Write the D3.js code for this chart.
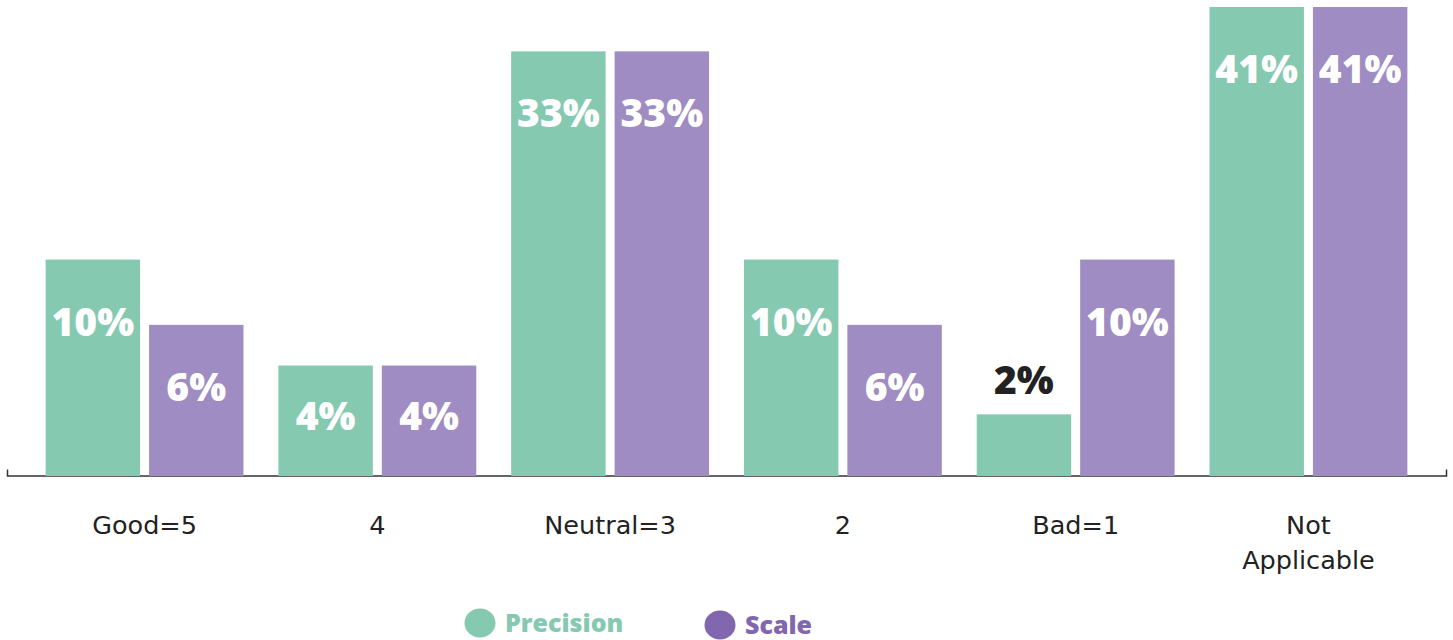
<!DOCTYPE html>
<html>
<head>
<meta charset="utf-8">
<script src="https://cdn.jsdelivr.net/npm/d3@7"></script>
<style>
  html, body { margin: 0; padding: 0; background: #fff; }
  svg { display: block; }
</style>
</head>
<body>
<svg id="chart" width="1453" height="640"></svg>
<script>
// Survey responses, share of respondents (%)
const categories = ["Good=5", "4", "Neutral=3", "2", "Bad=1", "Not Applicable"];
const seriesNames = ["Precision", "Scale"];
const precisionValues = [10, 4, 33, 10, 2, 41];
const scaleValues = [6, 4, 33, 6, 10, 41];

const barColors = ["#85c9b1", "#9f8cc2"];
const legendColors = ["#85c9b1", "#8067ae"];

const width = 1453, height = 640;
const baseY = 475.5, topY = 7;
const axisLeft = 7, axisRight = 1446;

const svg = d3.select("#chart");

const rows = categories.map((c, i) => ({
  category: c,
  values: [precisionValues[i], scaleValues[i]]
}));

const x0 = d3.scaleBand()
  .domain(categories)
  .range([axisLeft, axisRight])
  .paddingInner(0.15)
  .paddingOuter(0.166);

const x1 = d3.scaleBand()
  .domain(seriesNames)
  .range([0, x0.bandwidth()])
  .paddingInner(0.087);

const y = d3.scaleSymlog()
  .constant(7)
  .domain([0, d3.max([...precisionValues, ...scaleValues])])
  .range([baseY, topY]);

// baseline axis with category labels
const axis = d3.axisBottom(x0).tickSizeInner(0).tickSizeOuter(-6).tickPadding(0);
const gAxis = svg.append("g")
  .attr("transform", `translate(0,${baseY})`)
  .call(axis);
gAxis.select(".domain").attr("stroke", "#333").attr("stroke-width", 1.5);
gAxis.selectAll(".tick text")
  .attr("font-family", "'DejaVu Sans', sans-serif")
  .attr("font-size", 25.5)
  .attr("fill", "#222")
  .attr("y", 0)
  .attr("dy", null)
  .each(function(d) {
    const t = d3.select(this);
    const words = d.split(" ");
    t.text(null);
    words.forEach((w, k) => {
      t.append("tspan")
        .attr("x", 0)
        .attr("y", 58.5 + k * 35)
        .text(w);
    });
  });

// bars
const groups = svg.append("g").selectAll("g")
  .data(rows)
  .join("g")
  .attr("transform", d => `translate(${x0(d.category)},0)`);

const bars = groups.selectAll("g.bar")
  .data(d => d.values.map((v, k) => ({ series: seriesNames[k], k, v })))
  .join("g")
  .attr("class", "bar");

bars.append("rect")
  .attr("x", d => x1(d.series))
  .attr("width", x1.bandwidth())
  .attr("y", d => y(d.v))
  .attr("height", d => y(0) - y(d.v) + 0.5)
  .attr("fill", d => barColors[d.k]);

// value labels: inside tall bars, above short ones
bars.append("text")
  .attr("x", d => x1(d.series) + x1.bandwidth() / 2)
  .attr("y", d => {
    const h = y(0) - y(d.v);
    if (h < 80) return y(d.v) - 34;
    return y(d.v) + Math.min(62, h / 2 - 5);
  })
  .attr("dy", "0.36em")
  .attr("text-anchor", "middle")
  .attr("font-family", "'Open Sans', sans-serif")
  .attr("font-weight", 800)
  .attr("font-size", 39)
  .attr("fill", d => (y(0) - y(d.v) < 80 ? "#222" : "#fff"))
  .text(d => d.v + "%");

// legend
const legendX = [480, 720];
const legend = svg.append("g").selectAll("g")
  .data(seriesNames)
  .join("g")
  .attr("transform", (d, i) => `translate(${legendX[i]},${623 + i * 2})`);

legend.append("ellipse")
  .attr("rx", 15.5)
  .attr("ry", 14.5)
  .attr("fill", (d, i) => legendColors[i]);

legend.append("text")
  .attr("x", 25)
  .attr("y", 9)
  .attr("font-family", "'Open Sans', sans-serif")
  .attr("font-weight", 800)
  .attr("font-size", 25)
  .attr("fill", (d, i) => legendColors[i])
  .text(d => d);
</script>
</body>
</html>
